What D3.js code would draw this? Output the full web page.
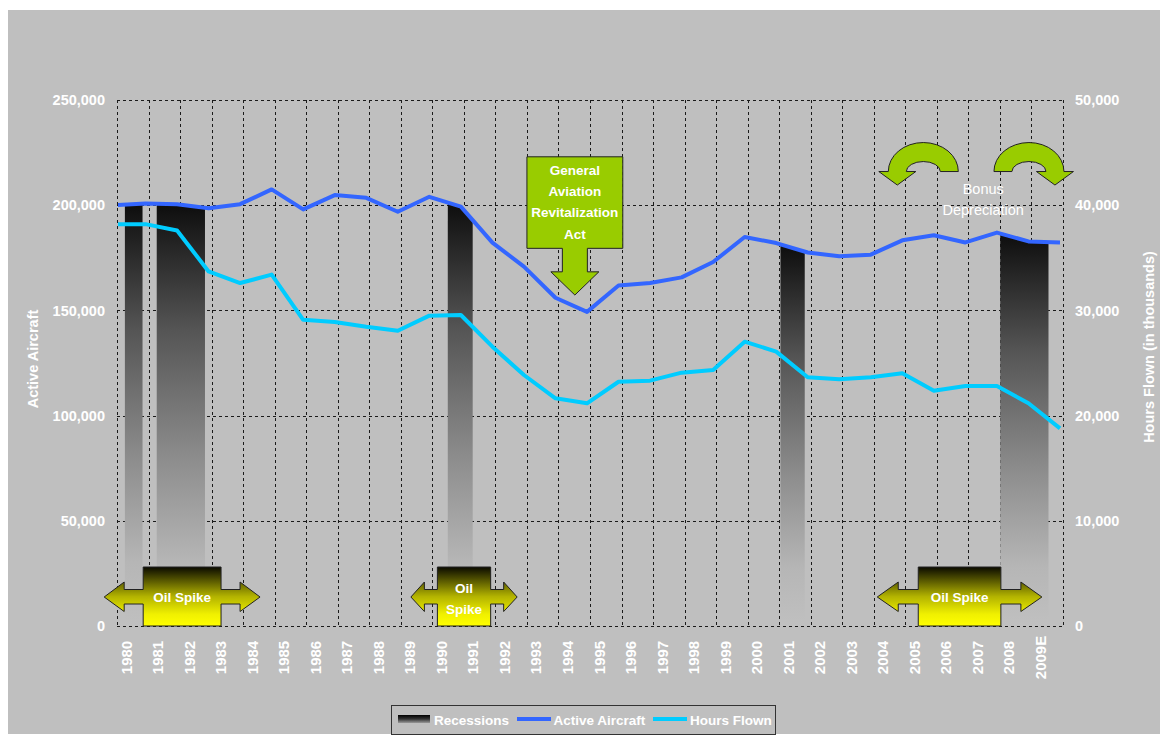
<!DOCTYPE html>
<html>
<head>
<meta charset="utf-8">
<script src="https://cdn.jsdelivr.net/npm/d3@7"></script>
<style>
  body { margin: 0; background: #ffffff; }
  svg text { font-family: "Liberation Sans", Arial, Helvetica, sans-serif; }
</style>
</head>
<body>
<svg id="chart" width="1168" height="740"></svg>
<script>
// ---------------- DATA ----------------
const yearLabels = ["1980","1981","1982","1983","1984","1985","1986","1987","1988","1989",
  "1990","1991","1992","1993","1994","1995","1996","1997","1998","1999",
  "2000","2001","2002","2003","2004","2005","2006","2007","2008","2009E"];
const yearTicks = [1980,1981,1982,1983,1984,1985,1986,1987,1988,1989,
  1990,1991,1992,1993,1994,1995,1996,1997,1998,1999,
  2000,2001,2002,2003,2004,2005,2006,2007,2008,2009];
const gridYears = [1980,1981,1982,1983,1984,1985,1986,1987,1988,1989,
  1990,1991,1992,1993,1994,1995,1996,1997,1998,1999,
  2000,2001,2002,2003,2004,2005,2006,2007,2008,2009,2010];
const lineYears = [1980,1981,1982,1983,1984,1985,1986,1987,1988,1989,
  1990,1991,1992,1993,1994,1995,1996,1997,1998,1999,
  2000,2001,2002,2003,2004,2005,2006,2007,2008,2009,2010];
const activeAircraft = [200000,200800,200500,198500,200500,207500,198000,204800,203500,196900,
  204000,199300,182200,170800,156000,149300,161800,163000,165700,173000,
  184900,182000,177500,175700,176500,183300,185700,182300,187000,182800,182300];
const hoursFlown = [38200,38200,37600,33700,32600,33400,29100,28900,28450,28070,
  29500,29560,26550,23860,21640,21170,23220,23320,24080,24330,
  27030,26080,23640,23450,23640,24020,22370,22810,22810,21170,18790];
const leftTicks = [0,50000,100000,150000,200000,250000];
const rightTicks = [0,10000,20000,30000,40000,50000];
const recessions = [[1980.25,1980.81],[1981.26,1982.79],[1990.49,1991.28],[2001.04,2001.81],[2008.01,2009.54]];
const oilSpikes = [
  {from:1980.83, to:1983.30, label:["Oil Spike"]},
  {from:1990.16, to:1991.85, label:["Oil","Spike"]},
  {from:2005.41, to:2008.03, label:["Oil Spike"]}
];
const garaLabel = ["General","Aviation","Revitalization","Act"];
const bonusLabel = ["Bonus","Depreciation"];
const legendLabels = ["Recessions","Active Aircraft","Hours Flown"];

// ---------------- LAYOUT ----------------
const W = 1168, H = 740;
const plot = {left:117, right:1063, top:100, bottom:626};
const BG = "#bfbfbf";
const BLUE = "#3366ff", CYAN = "#00ccff";

const svg = d3.select("#chart");
const defs = svg.append("defs");

svg.append("rect").attr("x",0).attr("y",0).attr("width",W).attr("height",H).attr("fill","#ffffff");
svg.append("rect").attr("x",8).attr("y",10).attr("width",1152).attr("height",724).attr("fill",BG);

const x = d3.scaleLinear().domain([1980,2010]).range([plot.left, plot.right]);
const xLine = d3.scaleLinear().domain([1980,2010]).range([plot.left-3, plot.right-3]);
const yL = d3.scaleLinear().domain([0,250000]).range([plot.bottom, plot.top]);
const yR = d3.scaleLinear().domain([0,50000]).range([plot.bottom, plot.top]);

// gradients
const gRec = defs.append("linearGradient").attr("id","recGrad").attr("x1",0).attr("y1",0).attr("x2",0).attr("y2",1);
[[0,"#0d0d0d"],[0.3,"#555555"],[0.6,"#8c8c8c"],[0.85,"#b6b6b6"],[1,"#c0c0c0"]].forEach(s=>
  gRec.append("stop").attr("offset",s[0]).attr("stop-color",s[1]));
const gOil = defs.append("linearGradient").attr("id","oilGrad").attr("x1",0).attr("y1",0).attr("x2",0).attr("y2",1);
[[0,"#0a0a00"],[0.5,"#b3b300"],[0.8,"#f0f000"],[1,"#ffff00"]].forEach(s=>
  gOil.append("stop").attr("offset",s[0]).attr("stop-color",s[1]));
const gLeg = defs.append("linearGradient").attr("id","legGrad").attr("x1",0).attr("y1",0).attr("x2",0).attr("y2",1);
[[0,"#000000"],[0.5,"#333333"],[1,"#999999"]].forEach(s=>
  gLeg.append("stop").attr("offset",s[0]).attr("stop-color",s[1]));

// ---------------- GRID ----------------
const grid = svg.append("g").attr("stroke","#1a1a1a").attr("stroke-width",1).attr("stroke-dasharray","3,3").attr("fill","none");
grid.selectAll("line.v").data(gridYears).join("line").attr("class","v")
  .attr("x1",d=>Math.round(x(d))+0.5).attr("x2",d=>Math.round(x(d))+0.5)
  .attr("y1",plot.top).attr("y2",plot.bottom);
grid.selectAll("line.h").data(leftTicks).join("line").attr("class","h")
  .attr("x1",plot.left).attr("x2",plot.right)
  .attr("y1",d=>Math.round(yL(d))+0.5).attr("y2",d=>Math.round(yL(d))+0.5);

// ---------------- RECESSIONS ----------------
function aircraftAt(px){
  const yr = xLine.invert(px);
  const i = Math.max(0, Math.min(lineYears.length-2, d3.bisectRight(lineYears, yr)-1));
  const t = (yr - lineYears[i])/(lineYears[i+1]-lineYears[i]);
  return activeAircraft[i] + t*(activeAircraft[i+1]-activeAircraft[i]);
}
recessions.forEach(r=>{
  const x0 = x(r[0]), x1 = x(r[1]);
  const pts = [[x0, yL(aircraftAt(x0))]];
  lineYears.forEach((yr,i)=>{ const px = xLine(yr); if(px>x0 && px<x1) pts.push([px, yL(activeAircraft[i])]); });
  pts.push([x1, yL(aircraftAt(x1))]);
  pts.push([x1, yL(0)]); pts.push([x0, yL(0)]);
  svg.append("path").attr("d", d3.line()(pts)+"Z").attr("fill","url(#recGrad)");
});

// ---------------- LINES ----------------
const lineA = d3.line().x((d,i)=>xLine(lineYears[i])).y(d=>yL(d));
const lineH = d3.line().x((d,i)=>xLine(lineYears[i])).y(d=>yR(d));
defs.append("clipPath").attr("id","plotClip").append("rect")
  .attr("x",plot.left+1).attr("y",0).attr("width",plot.right-plot.left).attr("height",H);
const lg = svg.append("g").attr("clip-path","url(#plotClip)");
lg.append("path").datum(hoursFlown).attr("d",lineH).attr("fill","none").attr("stroke",CYAN).attr("stroke-width",4).attr("stroke-linejoin","round");
lg.append("path").datum(activeAircraft).attr("d",lineA).attr("fill","none").attr("stroke",BLUE).attr("stroke-width",4).attr("stroke-linejoin","round");

// ---------------- AXES ----------------
const fmt = d3.format(",");
const axL = svg.append("g").attr("transform",`translate(${plot.left},0)`)
  .call(d3.axisLeft(yL).tickValues(leftTicks).tickFormat(fmt).tickSize(0).tickPadding(12));
const axR = svg.append("g").attr("transform",`translate(${plot.right},0)`)
  .call(d3.axisRight(yR).tickValues(rightTicks).tickFormat(fmt).tickSize(0).tickPadding(12));
[axL,axR].forEach(a=>{
  a.select(".domain").remove();
  a.selectAll("text").attr("fill","#ffffff").attr("font-size","14.5px").attr("font-weight","bold")
    .attr("font-family","Liberation Sans, Arial, sans-serif");
});
const axB = svg.append("g").attr("transform",`translate(0,${plot.bottom})`)
  .call(d3.axisBottom(x).tickValues(yearTicks).tickFormat((d,i)=>yearLabels[i]).tickSize(0));
axB.select(".domain").remove();
axB.selectAll("text").attr("fill","#ffffff").attr("font-size","15px").attr("font-weight","bold")
  .attr("font-family","Liberation Sans, Arial, sans-serif")
  .attr("transform","rotate(-90)").attr("text-anchor","middle")
  .attr("x",-31.5).attr("y",14).attr("dy",0);

// axis titles
svg.append("text").attr("transform",`translate(38,${(plot.top+plot.bottom)/2-4}) rotate(-90)`)
  .attr("text-anchor","middle").attr("fill","#ffffff").attr("font-size","14.5px").attr("font-weight","bold")
  .text("Active Aircraft");
svg.append("text").attr("transform",`translate(1154,${(plot.top+plot.bottom)/2-16}) rotate(-90)`)
  .attr("text-anchor","middle").attr("fill","#ffffff").attr("font-size","14.5px").attr("font-weight","bold")
  .text("Hours Flown (in thousands)");

// ---------------- OIL SPIKE ARROWS ----------------
const oilGeom = [{shaft:19, head:20},{shaft:13, head:13.5},{shaft:20, head:21}];
const boxTop = 567, shaftTop = 589.5, shaftBot = 604, headTop = 582, headBot = 611.5, tipY = 597;
oilSpikes.forEach((o,k)=>{
  const g = oilGeom[k];
  const L = x(o.from), R = x(o.to), B = plot.bottom;
  const pts = [
    [L,boxTop],[R,boxTop],[R,shaftTop],[R+g.shaft,shaftTop],[R+g.shaft,headTop],[R+g.shaft+g.head,tipY],
    [R+g.shaft,headBot],[R+g.shaft,shaftBot],[R,shaftBot],[R,B],[L,B],[L,shaftBot],[L-g.shaft,shaftBot],
    [L-g.shaft,headBot],[L-g.shaft-g.head,tipY],[L-g.shaft,headTop],[L-g.shaft,shaftTop],[L,shaftTop]
  ];
  svg.append("path").attr("d",d3.line()(pts)+"Z").attr("fill","url(#oilGrad)")
    .attr("stroke","#222222").attr("stroke-width",1);
  const cx = (L+R)/2;
  const n = o.label.length;
  o.label.forEach((t,j)=>{
    svg.append("text").attr("x",cx).attr("y", n===1 ? 602 : 592.5 + j*21.5)
      .attr("text-anchor","middle").attr("fill","#ffffff").attr("font-size","13.5px").attr("font-weight","bold").text(t);
  });
});

// ---------------- GARA ARROW ----------------
(function(){
  const L = x(1993.0), R = x(1996.04), cx = (L+R)/2;
  const top = yL(223000), bot = yL(179500), headBase = bot+23.5, tip = yL(157300);
  const pts = [[L,top],[R,top],[R,bot],[cx+12.5,bot],[cx+12.5,headBase],[cx+24,headBase],[cx,tip],
    [cx-24,headBase],[cx-12.5,headBase],[cx-12.5,bot],[L,bot]];
  svg.append("path").attr("d",d3.line()(pts)+"Z").attr("fill","#99cc00").attr("stroke","#222222").attr("stroke-width",1);
  garaLabel.forEach((t,j)=>{
    svg.append("text").attr("x",cx).attr("y",174.5 + j*21.4).attr("text-anchor","middle")
      .attr("fill","#ffffff").attr("font-size","13.5px").attr("font-weight","bold").text(t);
  });
})();

// ---------------- BONUS DEPRECIATION ----------------
function curvedArrow(cx, by, mirror){
  const rxo=35, ryo=29, rxi=17, ryi=10, hw=18.5, hh=13.5;
  const mid = cx-(rxo+rxi)/2;
  const d = `M${cx+rxo},${by} A${rxo},${ryo} 0 0 0 ${cx-rxo},${by} L${mid-hw},${by} L${mid},${by+hh} L${mid+hw},${by} L${cx-rxi},${by} A${rxi},${ryi} 0 0 1 ${cx+rxi},${by} Z`;
  const p = svg.append("path").attr("d",d).attr("fill","#99cc00").attr("stroke","#222222").attr("stroke-width",1);
  if(mirror) p.attr("transform",`translate(${2*cx},0) scale(-1,1)`);
}
curvedArrow(x(2005.57), yL(216000), false);
curvedArrow(x(2008.92), yL(216000), true);
bonusLabel.forEach((t,j)=>{
  svg.append("text").attr("x",x(2007.47)).attr("y",194 + j*21).attr("text-anchor","middle")
    .attr("fill","#ffffff").attr("font-size","14.5px").text(t);
});

// ---------------- LEGEND ----------------
const leg = svg.append("g");
leg.append("rect").attr("x",391.5).attr("y",705.5).attr("width",384).attr("height",29)
  .attr("fill",BG).attr("stroke","#333333").attr("stroke-width",1);
leg.append("rect").attr("x",398).attr("y",715).attr("width",32).attr("height",8).attr("fill","url(#legGrad)");
leg.append("line").attr("x1",517).attr("x2",551).attr("y1",719).attr("y2",719).attr("stroke",BLUE).attr("stroke-width",4);
leg.append("line").attr("x1",653).attr("x2",687).attr("y1",719).attr("y2",719).attr("stroke",CYAN).attr("stroke-width",4);
[[434,0],[553.5,1],[690,2]].forEach(([lx,i])=>{
  leg.append("text").attr("x",lx).attr("y",724.5).attr("fill","#ffffff").attr("font-size","13.5px")
    .attr("font-weight","bold").text(legendLabels[i]);
});
</script>
</body>
</html>
